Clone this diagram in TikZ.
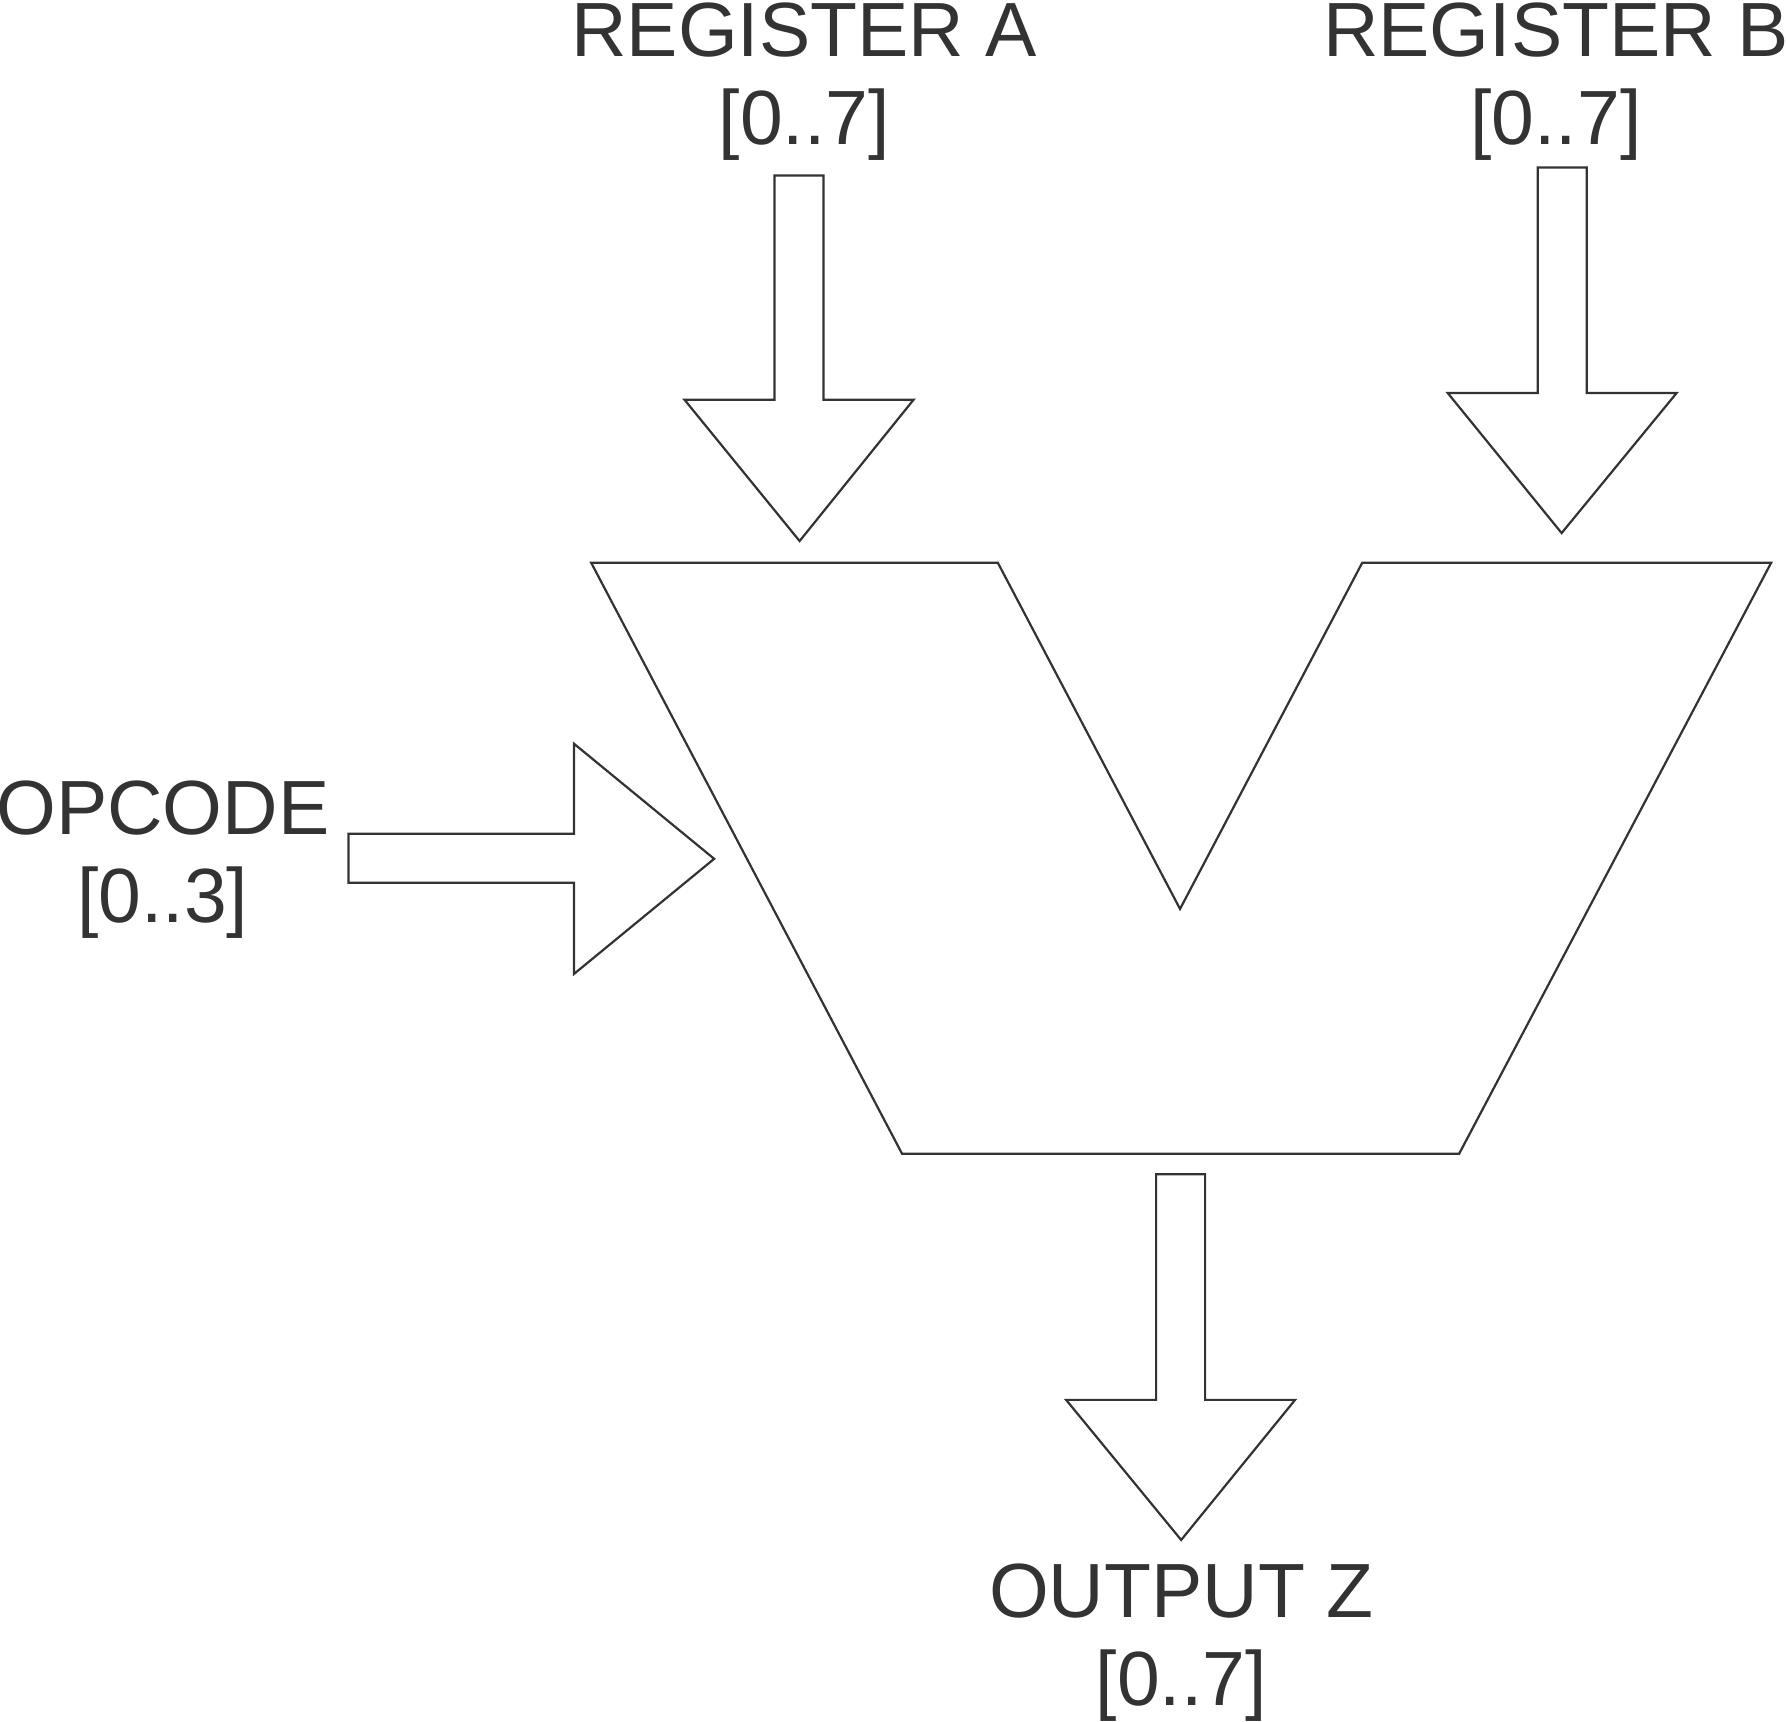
\documentclass[tikz,border=0pt]{standalone}
\usepackage{fontspec}
\setmainfont{Liberation Sans}
\usepackage{tikz}
\definecolor{ink}{HTML}{333333}
\begin{document}
\begin{tikzpicture}[x=0.1mm,y=-0.1mm]
\tikzstyle{every node}=[font=\fontsize{19.2}{22}\selectfont,text=ink,inner sep=0pt,anchor=base]
\tikzstyle{blk}=[draw=ink,fill=white,line width=0.55pt,line join=miter]
\useasboundingbox (0,0) rectangle (1568,1511);
\draw[blk](519,494)--(876,494)--(1036,798)--(1196,494)--(1555,494)--(1281,1013)--(792,1013)--cycle;
\draw[blk](680,154)--(723,154)--(723,351)--(802,351)--(702,475)--(601,351)--(680,351)--cycle;
\draw[blk](1350,147)--(1393,147)--(1393,345)--(1472,345)--(1371,468)--(1271,345)--(1350,345)--cycle;
\draw[blk](306,732)--(504,732)--(504,653)--(627,754)--(504,855)--(504,775)--(306,775)--cycle;
\draw[blk](1015,1031)--(1058,1031)--(1058,1229)--(1137,1229)--(1037,1352)--(936,1229)--(1015,1229)--cycle;
\node (regA) at (706,50) {REGISTER A};
\node (regArange) at (706,127) {[0..7]};
\node (regB) at (1366,50) {REGISTER B};
\node (regBrange) at (1366,127) {[0..7]};
\node (opc) at (143,733) {OPCODE};
\node (opcrange) at (143,810) {[0..3]};
\node (outZ) at (1037,1420) {OUTPUT Z};
\node (outZrange) at (1037,1497) {[0..7]};
\end{tikzpicture}
\end{document}
